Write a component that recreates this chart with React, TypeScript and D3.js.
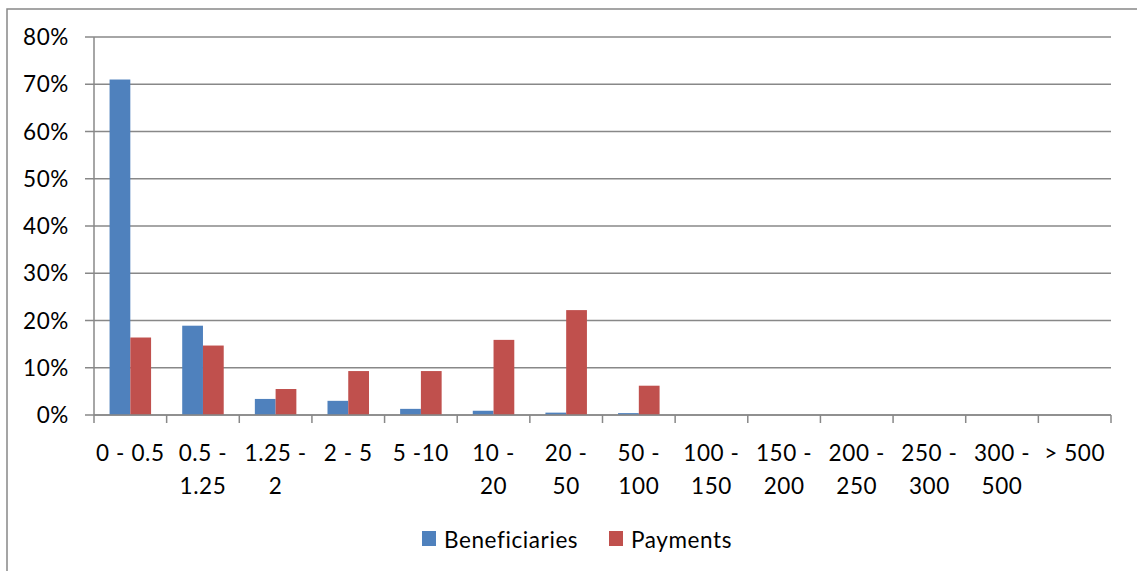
import React from "react";
import * as d3 from "d3";

const categories = [
  "0 - 0.5",
  "0.5 -\n1.25",
  "1.25 -\n2",
  "2 - 5",
  "5 -10",
  "10 -\n20",
  "20 -\n50",
  "50 -\n100",
  "100 -\n150",
  "150 -\n200",
  "200 -\n250",
  "250 -\n300",
  "300 -\n500",
  "> 500",
];
const beneficiaries = [71.0, 18.9, 3.4, 3.0, 1.3, 0.9, 0.5, 0.4, 0, 0, 0, 0, 0, 0];
const payments = [16.4, 14.7, 5.5, 9.3, 9.3, 15.9, 22.2, 6.2, 0, 0, 0, 0, 0, 0];
const yTicks = [0, 10, 20, 30, 40, 50, 60, 70, 80];
const seriesNames = ["Beneficiaries", "Payments"];
const colors = ["#4f81bd", "#c0504d"];

const W = 1137;
const H = 571;
const margin = { top: 37, right: 26, bottom: 155, left: 94 };
const font = "Lato, 'Open Sans', sans-serif";
const fs = 22.5;
const ls = 0.6;

export default function App() {
  const x = d3
    .scaleBand()
    .domain(categories)
    .range([margin.left, W - margin.right]);
  const bw = x.bandwidth() / 3.5; // gap width 150%
  const y = d3
    .scaleLinear()
    .domain([0, 80])
    .range([H - margin.bottom - 1, margin.top]);
  const y0 = y(0);
  const series = [beneficiaries, payments];

  return (
    <svg
      width={W}
      height={H}
      style={{ position: "absolute", left: 0, top: 0, background: "#fff" }}
      fontFamily={font}
      letterSpacing={ls}
    >
      {/* chart border */}
      <rect x={7} y={9} width={W + 10} height={H + 10} fill="none" stroke="#888" strokeWidth={1.5} />

      {/* gridlines */}
      {yTicks.map((t) => (
        <g key={t}>
          <line x1={margin.left - 9} x2={W - margin.right} y1={y(t)} y2={y(t)} stroke="#888" strokeWidth={1.5} />
          <text x={69} y={y(t)} dy="0.36em" textAnchor="end" fontSize={fs} fill="#000">
            {t}%
          </text>
        </g>
      ))}

      {/* bars */}
      {series.map((vals, si) =>
        vals.map((v, i) => (
          <rect
            key={`${si}-${i}`}
            x={(x(categories[i]) ?? 0) + bw * 0.75 + si * bw}
            y={y(v)}
            width={bw}
            height={y0 - y(v)}
            fill={colors[si]}
          />
        ))
      )}

      {/* y axis */}
      <line x1={margin.left} x2={margin.left} y1={margin.top} y2={y0 + 8} stroke="#888" strokeWidth={1.5} />
      {/* x axis */}
      <line x1={margin.left} x2={W - margin.right} y1={y0} y2={y0} stroke="#888" strokeWidth={1.5} />
      {categories.map((c) => {
        const xr = (x(c) ?? 0) + x.bandwidth();
        return <line key={c} x1={xr} x2={xr} y1={y0} y2={y0 + 8} stroke="#888" strokeWidth={1.5} />;
      })}

      {/* x labels */}
      {categories.map((c) => {
        const cx = (x(c) ?? 0) + x.bandwidth() / 2;
        return (
          <text key={c} x={cx} y={461} textAnchor="middle" fontSize={fs} fill="#000">
            {c.split("\n").map((ln, k) => (
              <tspan key={k} x={cx} dy={k === 0 ? 0 : 33}>
                {ln}
              </tspan>
            ))}
          </text>
        );
      })}

      {/* legend */}
      {seriesNames.map((n, i) => {
        const lx = i === 0 ? 422 : 609;
        return (
          <g key={n}>
            <rect x={lx} y={531} width={14} height={15} fill={colors[i]} />
            <text x={lx + 22} y={548} fontSize={fs} fill="#000">
              {n}
            </text>
          </g>
        );
      })}
    </svg>
  );
}
